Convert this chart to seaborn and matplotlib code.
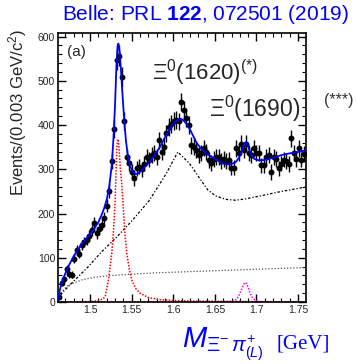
import numpy as np
import pandas as pd
import matplotlib
matplotlib.use("Agg")
import matplotlib.pyplot as plt
import seaborn as sns
from matplotlib.ticker import MultipleLocator

# ---------------- data ----------------
bin_width = 0.003
m_start = 1.4613
counts = [12, 42, 52, 75, 63, 62, 98, 117, 109, 128,
          136, 140, 150, 162, 178, 156, 165, 175, 190, 218,
          250, 318, 391, 548, 557, 509, 409, 328, 314, 294,
          280, 302, 306, 300, 313, 328, 322, 332, 336, 328,
          366, 340, 351, 381, 396, 403, 410, 412, 408, 452,
          433, 415, 400, 354, 351, 343, 332, 336, 348, 339,
          321, 314, 324, 328, 328, 318, 324, 318, 321, 304,
          304, 347, 336, 358, 343, 358, 336, 332, 347, 336,
          337, 309, 309, 328, 332, 294, 328, 324, 302, 313,
          322, 318, 312, 370, 336, 324, 347, 322, 335]

fit_m = [1.4613, 1.4625, 1.4645, 1.467, 1.470, 1.475, 1.480, 1.485, 1.490, 1.495,
         1.500, 1.505, 1.510, 1.514, 1.517, 1.520, 1.523, 1.526, 1.528, 1.530,
         1.5315, 1.533, 1.534, 1.5355, 1.537, 1.539, 1.541, 1.543, 1.545, 1.548,
         1.551, 1.554, 1.557, 1.561, 1.566, 1.572, 1.578, 1.584, 1.590, 1.596,
         1.602, 1.608, 1.612, 1.616, 1.620, 1.624, 1.628, 1.634, 1.640, 1.648,
         1.655, 1.660, 1.665, 1.670, 1.675, 1.679, 1.682, 1.685, 1.6875, 1.690,
         1.693, 1.697, 1.703, 1.710, 1.720, 1.730, 1.740, 1.750, 1.760]
fit_total = [5, 18, 35, 50, 64, 85, 103, 118, 131, 143,
             154, 166, 181, 198, 213, 232, 262, 310, 370, 450,
             530, 580, 584, 565, 525, 465, 410, 365, 335, 308,
             294, 289, 290, 296, 306, 318, 333, 351, 372, 392,
             407, 415, 411, 402, 390, 375, 360, 345, 335, 326,
             318, 313, 311, 312, 316, 326, 340, 356, 362, 352,
             335, 324, 320, 321, 326, 332, 336, 339, 343]

comp_m = [1.4613, 1.4658, 1.4818, 1.4978, 1.513, 1.531, 1.551, 1.5713, 1.5914, 1.6054,
          1.6195, 1.6315, 1.6416, 1.6507, 1.663, 1.675, 1.6866, 1.7053, 1.725, 1.745, 1.760]
comp_1620 = [0, 20, 50, 80, 112, 145, 185, 230, 290, 339,
             313, 280, 253, 240, 232, 230, 233, 240, 248, 255, 260]

bkg_m = [1.4613, 1.4625, 1.4655, 1.4735, 1.49, 1.505, 1.52, 1.535, 1.55, 1.58,
         1.61, 1.64, 1.67, 1.70, 1.73, 1.76]
bkg = [0, 10, 23, 38, 50, 56, 59, 61, 63, 66, 68, 70, 72, 74, 76, 78]

x1530_m = [1.4613, 1.500, 1.510, 1.516, 1.518, 1.522, 1.526, 1.528, 1.530, 1.531,
           1.532, 1.533, 1.534, 1.535, 1.536, 1.538, 1.540, 1.542, 1.544, 1.547,
           1.550, 1.555, 1.560, 1.570, 1.585, 1.620, 1.700, 1.760]
x1530 = [0, 1, 3, 8, 12, 50, 110, 160, 225, 290,
         345, 368, 365, 340, 310, 265, 208, 150, 110, 75,
         50, 30, 20, 10, 5, 2, 1, 0]

x1690_m = [1.4613, 1.660, 1.672, 1.676, 1.679, 1.682, 1.684, 1.686, 1.688, 1.690,
           1.692, 1.695, 1.699, 1.705, 1.760]
x1690 = [0, 0, 2, 6, 15, 28, 38, 44, 42, 33, 22, 10, 3, 0, 0]

# ---------------- style ----------------
sns.set_style("ticks")
plt.rcParams['font.family'] = ['Liberation Sans', 'DejaVu Sans']
plt.rcParams['mathtext.fontset'] = 'custom'
plt.rcParams['mathtext.rm'] = 'Liberation Sans'
plt.rcParams['mathtext.it'] = 'Liberation Sans:italic'
plt.rcParams['mathtext.bf'] = 'Liberation Sans:bold'

fig = plt.figure(figsize=(3.57, 3.64), dpi=100)
ax = fig.add_axes([58/357, 1-302/364, (306-58)/357, (302-33)/364])

centers = m_start + bin_width * (np.arange(len(counts)) + 0.5)
df = pd.DataFrame({"m": centers, "n": counts})

sns.lineplot(x=bkg_m, y=bkg, ax=ax, color="#555555", lw=0.9,
             linestyle=(0, (1, 1.5)))
sns.lineplot(x=comp_m, y=comp_1620, ax=ax, color="black", lw=0.9,
             linestyle=(0, (2, 1.5, 1, 1.5)))
sns.lineplot(x=x1530_m, y=x1530, ax=ax, color="red", lw=1.1,
             linestyle=(0, (1, 1)))
sns.lineplot(x=x1690_m, y=x1690, ax=ax, color="magenta", lw=1.1,
             linestyle=(0, (1, 1)))

ax.errorbar(df["m"], df["n"], yerr=np.sqrt(df["n"]), xerr=bin_width/2,
            fmt="none", ecolor="black", elinewidth=1.0, capsize=0, zorder=3)
sns.scatterplot(data=df, x="m", y="n", ax=ax, color="black", s=18,
                edgecolor="black", linewidth=0, zorder=4)
sns.lineplot(x=fit_m, y=fit_total, ax=ax, color="#0000ff", lw=1.3, zorder=5)

ax.set_xlim(1.4613, 1.7596)
ax.set_ylim(0, 608)
ax.xaxis.set_major_locator(MultipleLocator(0.05))
ax.xaxis.set_minor_locator(MultipleLocator(0.01))
ax.yaxis.set_major_locator(MultipleLocator(100))
ax.yaxis.set_minor_locator(MultipleLocator(20))
ax.set_xticks([1.5, 1.55, 1.6, 1.65, 1.7, 1.75])
ax.set_xticklabels(["1.5", "1.55", "1.6", "1.65", "1.7", "1.75"])
ax.tick_params(which="both", direction="in", top=True, right=True,
               labelsize=7.5, color="black", pad=2)
ax.tick_params(which="major", length=6, width=1.0)
ax.tick_params(which="minor", length=3, width=0.8)
for sp in ax.spines.values():
    sp.set_linewidth(1.2)
    sp.set_color("black")
ax.set_xlabel("")
ax.set_ylabel("")

# ---------------- texts ----------------
fig.text(205/357, 1-14/364, r"Belle: PRL $\mathbf{122}$, 072501 (2019)",
         color="#0000ff", fontsize=15, ha="center", va="center")
fig.text(18/357, 1-29/364, r"Events/(0.003 GeV/c$^{2}$)", rotation=90,
         fontsize=12, ha="center", va="top")
ax.text(0.035, 0.955, "(a)", transform=ax.transAxes, fontsize=11,
        ha="left", va="top")
fig.text(152/357, 1-73/364, r"$\Xi^{0}$(1620)$^{(*)}$", fontsize=16,
         ha="left", va="center")
fig.text(209/357, 1-109/364, r"$\Xi^{0}$(1690)", fontsize=16.5,
         ha="left", va="center")
fig.text(324/357, 1-100/364, "(***)", fontsize=11.5,
         color="#333333", ha="left", va="center")
fig.text(182/357, 1-348/364, r"$\mathit{M}_{\Xi^{-}\,\pi^{+}_{(L)}}$",
         fontsize=21, color="#0000ff", ha="left", va="baseline")
fig.text(277/357, 1-348/364, "[GeV]", fontsize=15, color="#0000ff",
         ha="left", va="baseline", family="Liberation Serif")

fig.savefig("out.png", dpi=100)
